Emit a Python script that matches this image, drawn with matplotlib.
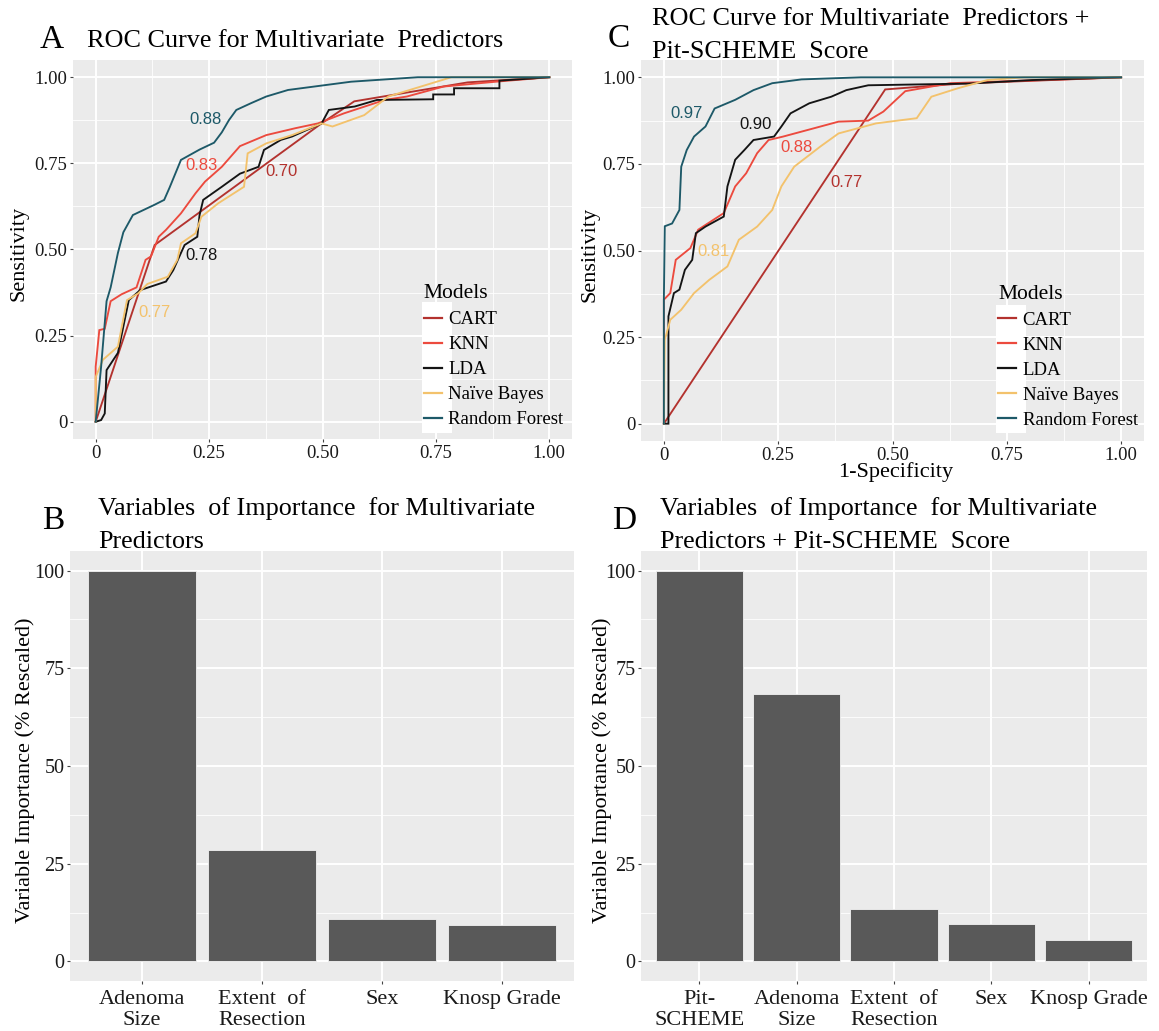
import matplotlib
matplotlib.use('Agg')
import matplotlib.pyplot as plt
from matplotlib.patches import Rectangle
from matplotlib.lines import Line2D
from matplotlib.ticker import FixedLocator

SERIF = ['Liberation Serif', 'DejaVu Serif']
SANS = ['Liberation Sans', 'DejaVu Sans']
plt.rcParams['font.family'] = SERIF

# ---------------- data ----------------
MODELS = ['CART', 'KNN', 'LDA', 'Naïve Bayes', 'Random Forest']
COLORS = ['#B3322E', '#EC4A3E', '#141414', '#F3C26C', '#1D5968']

# Panel A : ROC curves, multivariate predictors (1-specificity, sensitivity)
A_CART_FPR = [0, 0.13, 0.50, 0.57, 0.82, 1.0]
A_CART_TPR = [0, 0.513, 0.868, 0.93, 0.985, 1.0]
A_KNN_FPR = [0, 0.0, 0.008, 0.02, 0.033, 0.057, 0.09, 0.10, 0.11, 0.122, 0.139, 0.155, 0.188, 0.22, 0.241,
             0.278, 0.318, 0.376, 0.44, 0.49, 0.547, 0.637, 0.686, 0.767, 0.882, 1.0]
A_KNN_TPR = [0, 0.16, 0.266, 0.27, 0.35, 0.37, 0.39, 0.43, 0.47, 0.48, 0.537, 0.557, 0.605, 0.663, 0.697,
             0.74, 0.80, 0.832, 0.852, 0.866, 0.895, 0.934, 0.944, 0.973, 0.987, 1.0]
A_LDA_FPR = [0, 0.012, 0.02, 0.024, 0.049, 0.073, 0.098, 0.155, 0.171, 0.188, 0.196, 0.224, 0.229, 0.237,
             0.278, 0.318, 0.359, 0.371, 0.408, 0.433, 0.498, 0.514, 0.571, 0.62, 0.744, 0.744, 0.79, 0.79,
             0.89, 0.89, 1.0]
A_LDA_TPR = [0, 0.005, 0.024, 0.15, 0.20, 0.353, 0.382, 0.407, 0.44, 0.49, 0.513, 0.537, 0.60, 0.644,
             0.682, 0.72, 0.74, 0.789, 0.818, 0.828, 0.866, 0.905, 0.915, 0.934, 0.936, 0.95, 0.95, 0.968,
             0.968, 0.99, 1.0]
A_NB_FPR = [0, 0.0, 0.016, 0.049, 0.069, 0.094, 0.114, 0.159, 0.18, 0.188, 0.22, 0.233, 0.27, 0.327, 0.335,
            0.376, 0.433, 0.498, 0.522, 0.592, 0.645, 0.727, 0.784, 1.0]
A_NB_TPR = [0, 0.13, 0.18, 0.218, 0.353, 0.373, 0.40, 0.421, 0.47, 0.518, 0.547, 0.595, 0.634, 0.682, 0.779,
            0.808, 0.832, 0.866, 0.857, 0.89, 0.944, 0.977, 1.0, 1.0]
A_RF_FPR = [0, 0.012, 0.024, 0.033, 0.049, 0.061, 0.082, 0.13, 0.151, 0.163, 0.188, 0.229, 0.261, 0.278,
            0.294, 0.31, 0.343, 0.376, 0.424, 0.482, 0.563, 0.71, 1.0]
A_RF_TPR = [0, 0.16, 0.35, 0.39, 0.49, 0.55, 0.60, 0.63, 0.644, 0.68, 0.76, 0.79, 0.81, 0.84,
            0.876, 0.905, 0.925, 0.944, 0.963, 0.973, 0.987, 1.0, 1.0]
A_AUC = ['0.70', '0.83', '0.78', '0.77', '0.88']
A_AUC_POS = [(0.41, 0.726), (0.233, 0.745), (0.233, 0.484), (0.129, 0.317), (0.241, 0.878)]

# Panel C : ROC curves, multivariate predictors + Pit-SCHEME score
C_CART_FPR = [0, 0.484, 0.65, 1.0]
C_CART_TPR = [0, 0.965, 0.982, 1.0]
C_KNN_FPR = [0, 0.0, 0.014, 0.026, 0.058, 0.075, 0.131, 0.156, 0.18, 0.204, 0.229, 0.261, 0.382, 0.447,
             0.48, 0.528, 0.626, 1.0]
C_KNN_TPR = [0, 0.358, 0.377, 0.473, 0.507, 0.56, 0.608, 0.685, 0.723, 0.781, 0.819, 0.829, 0.872, 0.875,
             0.901, 0.96, 0.983, 1.0]
C_LDA_FPR = [0, 0.01, 0.01, 0.022, 0.034, 0.046, 0.062, 0.07, 0.091, 0.131, 0.139, 0.156, 0.176, 0.196,
             0.241, 0.257, 0.277, 0.318, 0.366, 0.399, 0.447, 0.666, 0.804, 1.0]
C_LDA_TPR = [0, 0.0, 0.31, 0.377, 0.387, 0.444, 0.473, 0.55, 0.569, 0.598, 0.685, 0.762, 0.79, 0.819,
             0.829, 0.858, 0.896, 0.925, 0.944, 0.963, 0.977, 0.982, 0.992, 1.0]
C_NB_FPR = [0, 0.002, 0.014, 0.038, 0.066, 0.099, 0.139, 0.164, 0.204, 0.237, 0.257, 0.285, 0.342, 0.382,
            0.464, 0.553, 0.585, 0.642, 0.707, 0.788, 1.0]
C_NB_TPR = [0, 0.242, 0.30, 0.329, 0.377, 0.415, 0.454, 0.531, 0.569, 0.617, 0.685, 0.742, 0.80, 0.838,
            0.867, 0.882, 0.944, 0.968, 0.992, 1.0, 1.0]
C_RF_FPR = [0, 0.0, 0.002, 0.018, 0.034, 0.038, 0.05, 0.066, 0.091, 0.111, 0.156, 0.196, 0.237, 0.301,
            0.431, 1.0]
C_RF_TPR = [0, 0.358, 0.57, 0.578, 0.617, 0.742, 0.79, 0.829, 0.858, 0.91, 0.935, 0.963, 0.983, 0.994,
            1.0, 1.0]
C_AUC = ['0.77', '0.88', '0.90', '0.81', '0.97']
C_AUC_POS = [(0.399, 0.696), (0.289, 0.798), (0.20, 0.865), (0.109, 0.497), (0.049, 0.896)]

# Panel B : variable importance, multivariate predictors
B_VARS = ['Adenoma\nSize', 'Extent  of\nResection', 'Sex', 'Knosp Grade']
B_IMPORTANCE = [100, 28.5, 10.9, 9.3]

# Panel D : variable importance, + Pit-SCHEME score
D_VARS = ['Pit-\nSCHEME', 'Adenoma\nSize', 'Extent  of\nResection', 'Sex', 'Knosp Grade']
D_IMPORTANCE = [100, 68.5, 13.3, 9.5, 5.6]

ROC_TICKS = [0, 0.25, 0.5, 0.75, 1.0]
ROC_TICKLABELS = ['0', '0.25', '0.50', '0.75', '1.00']
ROC_YTICKLABELS = ['0', '0.25', '0.50', '0.75', '1.00']
BAR_TICKS = [0, 25, 50, 75, 100]

# ---------------- layout helpers ----------------
W, H = 1159, 1031
fig = plt.figure(figsize=(W / 100, H / 100), dpi=100)


def rect(x0, y0, x1, y1):
    return [x0 / W, 1 - y1 / H, (x1 - x0) / W, (y1 - y0) / H]


def fx(p):
    return p / W


def fy(p):
    return 1 - p / H


def gg_style(ax):
    ax.set_facecolor('#EBEBEB')
    for s in ax.spines.values():
        s.set_visible(False)
    ax.grid(which='major', color='white', lw=1.4)
    ax.grid(which='minor', color='white', lw=0.6)
    ax.set_axisbelow(True)
    ax.tick_params(which='major', length=2.5, width=0.8, color='#444444', pad=1.5,
                   labelcolor='#1a1a1a')
    ax.tick_params(which='minor', length=0)


def roc_panel(ax, fprs, tprs, aucs, auc_pos, legend_anchor, white_box, xlabel=None):
    gg_style(ax)
    for f, t, c in zip(fprs, tprs, COLORS):
        ax.plot(f, t, color=c, lw=1.35, solid_joinstyle='miter')
    for txt, (x, y), c in zip(aucs, auc_pos, COLORS):
        ax.text(x, y, txt, color=c, fontsize=12, family=SANS, ha='center', va='center')
    ax.set_xlim(-0.05, 1.05)
    ax.set_ylim(-0.05, 1.05)
    ax.xaxis.set_major_locator(FixedLocator(ROC_TICKS))
    ax.yaxis.set_major_locator(FixedLocator(ROC_TICKS))
    ax.xaxis.set_minor_locator(FixedLocator([0.125, 0.375, 0.625, 0.875]))
    ax.yaxis.set_minor_locator(FixedLocator([0.125, 0.375, 0.625, 0.875]))
    ax.set_xticklabels(ROC_TICKLABELS, fontsize=13.5)
    ax.set_yticklabels(ROC_YTICKLABELS, fontsize=13.5)
    ax.set_ylabel('Sensitivity', fontsize=16)
    if xlabel:
        ax.set_xlabel(xlabel, fontsize=16)
    handles = [Line2D([], [], color=c, lw=1.6) for c in COLORS]
    ax.add_patch(Rectangle(white_box[:2], white_box[2], white_box[3], transform=ax.transAxes,
                           facecolor='white', edgecolor='none', zorder=3))
    ax.legend(handles, MODELS, title='Models', loc='upper left', bbox_to_anchor=legend_anchor,
              frameon=False, fontsize=13.5, title_fontsize=15.5, handlelength=0.95, handletextpad=0.35,
              labelspacing=0.42, borderpad=0, borderaxespad=0, alignment='left')


def bar_panel(ax, names, values):
    gg_style(ax)
    pos = list(range(len(names)))
    ax.bar(pos, values, width=0.9, color='#595959', edgecolor='#f2f2f2', lw=0.6, zorder=2)
    ax.set_xlim(-0.6, len(names) - 0.4)
    ax.set_ylim(-5, 105)
    ax.set_xticks(pos)
    ax.set_xticklabels(names, fontsize=16, linespacing=1.15, va='top')
    ax.yaxis.set_major_locator(FixedLocator(BAR_TICKS))
    ax.yaxis.set_minor_locator(FixedLocator([12.5, 37.5, 62.5, 87.5]))
    ax.set_yticklabels([str(v) for v in BAR_TICKS], fontsize=14.5)
    ax.tick_params(axis='x', pad=4)
    ax.grid(axis='x', which='minor', visible=False)
    ax.set_ylabel('Variable Importance (% Rescaled)', fontsize=16)


# ---------------- panels ----------------
axA = fig.add_axes(rect(73, 60, 572, 439))
roc_panel(axA,
          [A_CART_FPR, A_KNN_FPR, A_LDA_FPR, A_NB_FPR, A_RF_FPR],
          [A_CART_TPR, A_KNN_TPR, A_LDA_TPR, A_NB_TPR, A_RF_TPR],
          A_AUC, A_AUC_POS, (0.703, 0.408), (0.699, 0.016, 0.061, 0.345))
axA.yaxis.set_label_coords(-0.09, 0.49)

axC = fig.add_axes(rect(641, 60, 1144, 441))
roc_panel(axC,
          [C_CART_FPR, C_KNN_FPR, C_LDA_FPR, C_NB_FPR, C_RF_FPR],
          [C_CART_TPR, C_KNN_TPR, C_LDA_TPR, C_NB_TPR, C_RF_TPR],
          C_AUC, C_AUC_POS, (0.710, 0.410), (0.706, 0.021, 0.060, 0.336), xlabel='1-Specificity')
axC.yaxis.set_label_coords(-0.083, 0.49)
axC.xaxis.set_label_coords(0.507, -0.055)

axB = fig.add_axes(rect(70, 551, 574, 981))
bar_panel(axB, B_VARS, B_IMPORTANCE)
axB.yaxis.set_label_coords(-0.07, 0.49)

axD = fig.add_axes(rect(641, 551, 1147, 981))
bar_panel(axD, D_VARS, D_IMPORTANCE)
axD.yaxis.set_label_coords(-0.057, 0.49)

# ---------------- titles ----------------
TS = 18.8
LS = 24
fig.text(fx(40), fy(48), 'A', fontsize=LS, va='baseline')
fig.text(fx(87), fy(47), 'ROC Curve for Multivariate  Predictors', fontsize=TS, va='baseline')

fig.text(fx(608), fy(47), 'C', fontsize=LS, va='baseline')
fig.text(fx(652), fy(25), 'ROC Curve for Multivariate  Predictors +', fontsize=TS, va='baseline')
fig.text(fx(652), fy(58), 'Pit-SCHEME  Score', fontsize=TS, va='baseline')

fig.text(fx(42), fy(529), 'B', fontsize=LS, va='baseline')
fig.text(fx(98), fy(515), 'Variables  of Importance  for Multivariate', fontsize=TS, va='baseline')
fig.text(fx(98), fy(548), 'Predictors', fontsize=TS, va='baseline')

fig.text(fx(612), fy(529), 'D', fontsize=LS, va='baseline')
fig.text(fx(660), fy(515), 'Variables  of Importance  for Multivariate', fontsize=TS, va='baseline')
fig.text(fx(660), fy(548), 'Predictors + Pit-SCHEME  Score', fontsize=TS, va='baseline')

fig.savefig('out.png', dpi=100)
